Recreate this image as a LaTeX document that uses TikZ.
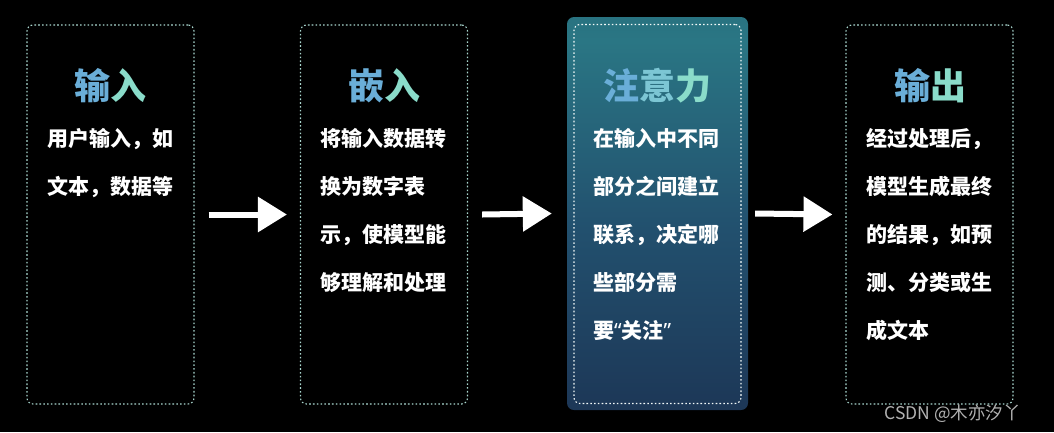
\documentclass[tikz,border=0pt]{standalone}
\usepackage{fontspec}
\usetikzlibrary{arrows.meta,positioning}
\newfontfamily\cjk{Noto Sans CJK SC}
\newfontfamily\latinq{Noto Sans}
\definecolor{dotline}{HTML}{A8D6CE}
\definecolor{headA}{HTML}{6AAED8}
\definecolor{headB}{HTML}{7CC6D4}
\definecolor{headC}{HTML}{8ADCCA}
\definecolor{glowtop}{HTML}{1C5662}
\definecolor{glowmid}{HTML}{2A7684}
\definecolor{glowlow}{HTML}{22506E}
\definecolor{glowdeep}{HTML}{1C3454}
\definecolor{glowbot}{HTML}{1A2044}
\pgfdeclareverticalshading{glowshade}{100bp}{color(0bp)=(glowbot); color(22bp)=(glowdeep);
  color(48bp)=(glowlow); color(72bp)=(glowmid); color(100bp)=(glowtop)}
\begin{document}
\begin{tikzpicture}[
  x=1pt,y=-1pt,
  panel/.style={draw=dotline,line width=1.1pt,dash pattern=on 1.6pt off 2.2pt,
    rounded corners=6pt,minimum width=167pt,minimum height=379pt,inner sep=0pt},
  heading/.style={font=\cjk\bfseries\fontsize{36}{36}\selectfont,inner sep=0pt,anchor=base},
  body/.style={font=\cjk\bfseries\fontsize{21}{48}\selectfont,text=white,
    text width=150pt,align=left,inner sep=0pt,anchor=base west},
  flow/.style={draw=white,line width=6pt,-{Triangle[length=29pt,width=34pt]}}
]
\useasboundingbox (0,0) rectangle (1054,432);
\fill[black] (0,0) rectangle (1054,432);
% highlighted step
\node[shade,shading=glowshade,rounded corners=7pt,
  minimum width=181pt,minimum height=393pt] (glow) at (657.5,213.5) {};

\node[panel] (b1) at (110.5,214.5) {};
\node[panel] (b2) at (384,214.5) {};
\node[panel,draw=white!85!dotline] (b3) at (657.5,214) {};
\node[panel] (b4) at (929.5,214.5) {};

\node[heading] (t1) at (110.5,99) {\textcolor{headA}{输}\textcolor{headC}{入}};
\node[heading] (t2) at (384,99) {\textcolor{headA}{嵌}\textcolor{headC}{入}};
\node[heading] (t3) at (657,99) {\textcolor{headA}{注}\textcolor{headB}{意}\textcolor{headC}{力}};
\node[heading] (t4) at (930,99) {\textcolor{headA}{输}\textcolor{headC}{出}};

\node[body] (d1) at (47,146) {用户输入，如\\文本，数据等};
\node[body] (d2) at (320,146) {将输入数据转\\换为数字表\\示，使模型能\\够理解和处理};
\node[body] (d3) at (593,146) {在输入中不同\\部分之间建立\\联系，决定哪\\些部分需\\要{\latinq “}关注{\latinq ”}};
\node[body] (d4) at (866,146) {经过处理后，\\模型生成最终\\的结果，如预\\测、分类或生\\成文本};

\draw[flow] ([xshift=14pt]b1.east) -- ([xshift=-13pt]b2.west);
\draw[flow] ([xshift=14pt]b2.east) -- ([xshift=-15pt]glow.west);
\draw[flow] ([xshift=7pt]glow.east) -- ([xshift=-13pt]b4.west);

\node[font=\cjk\fontsize{17.5}{17.5}\selectfont,text=black!30!white,inner sep=0pt,anchor=base east]
  (mark) at (1021,419) {CSDN @木亦汐丫};
\end{tikzpicture}
\end{document}
